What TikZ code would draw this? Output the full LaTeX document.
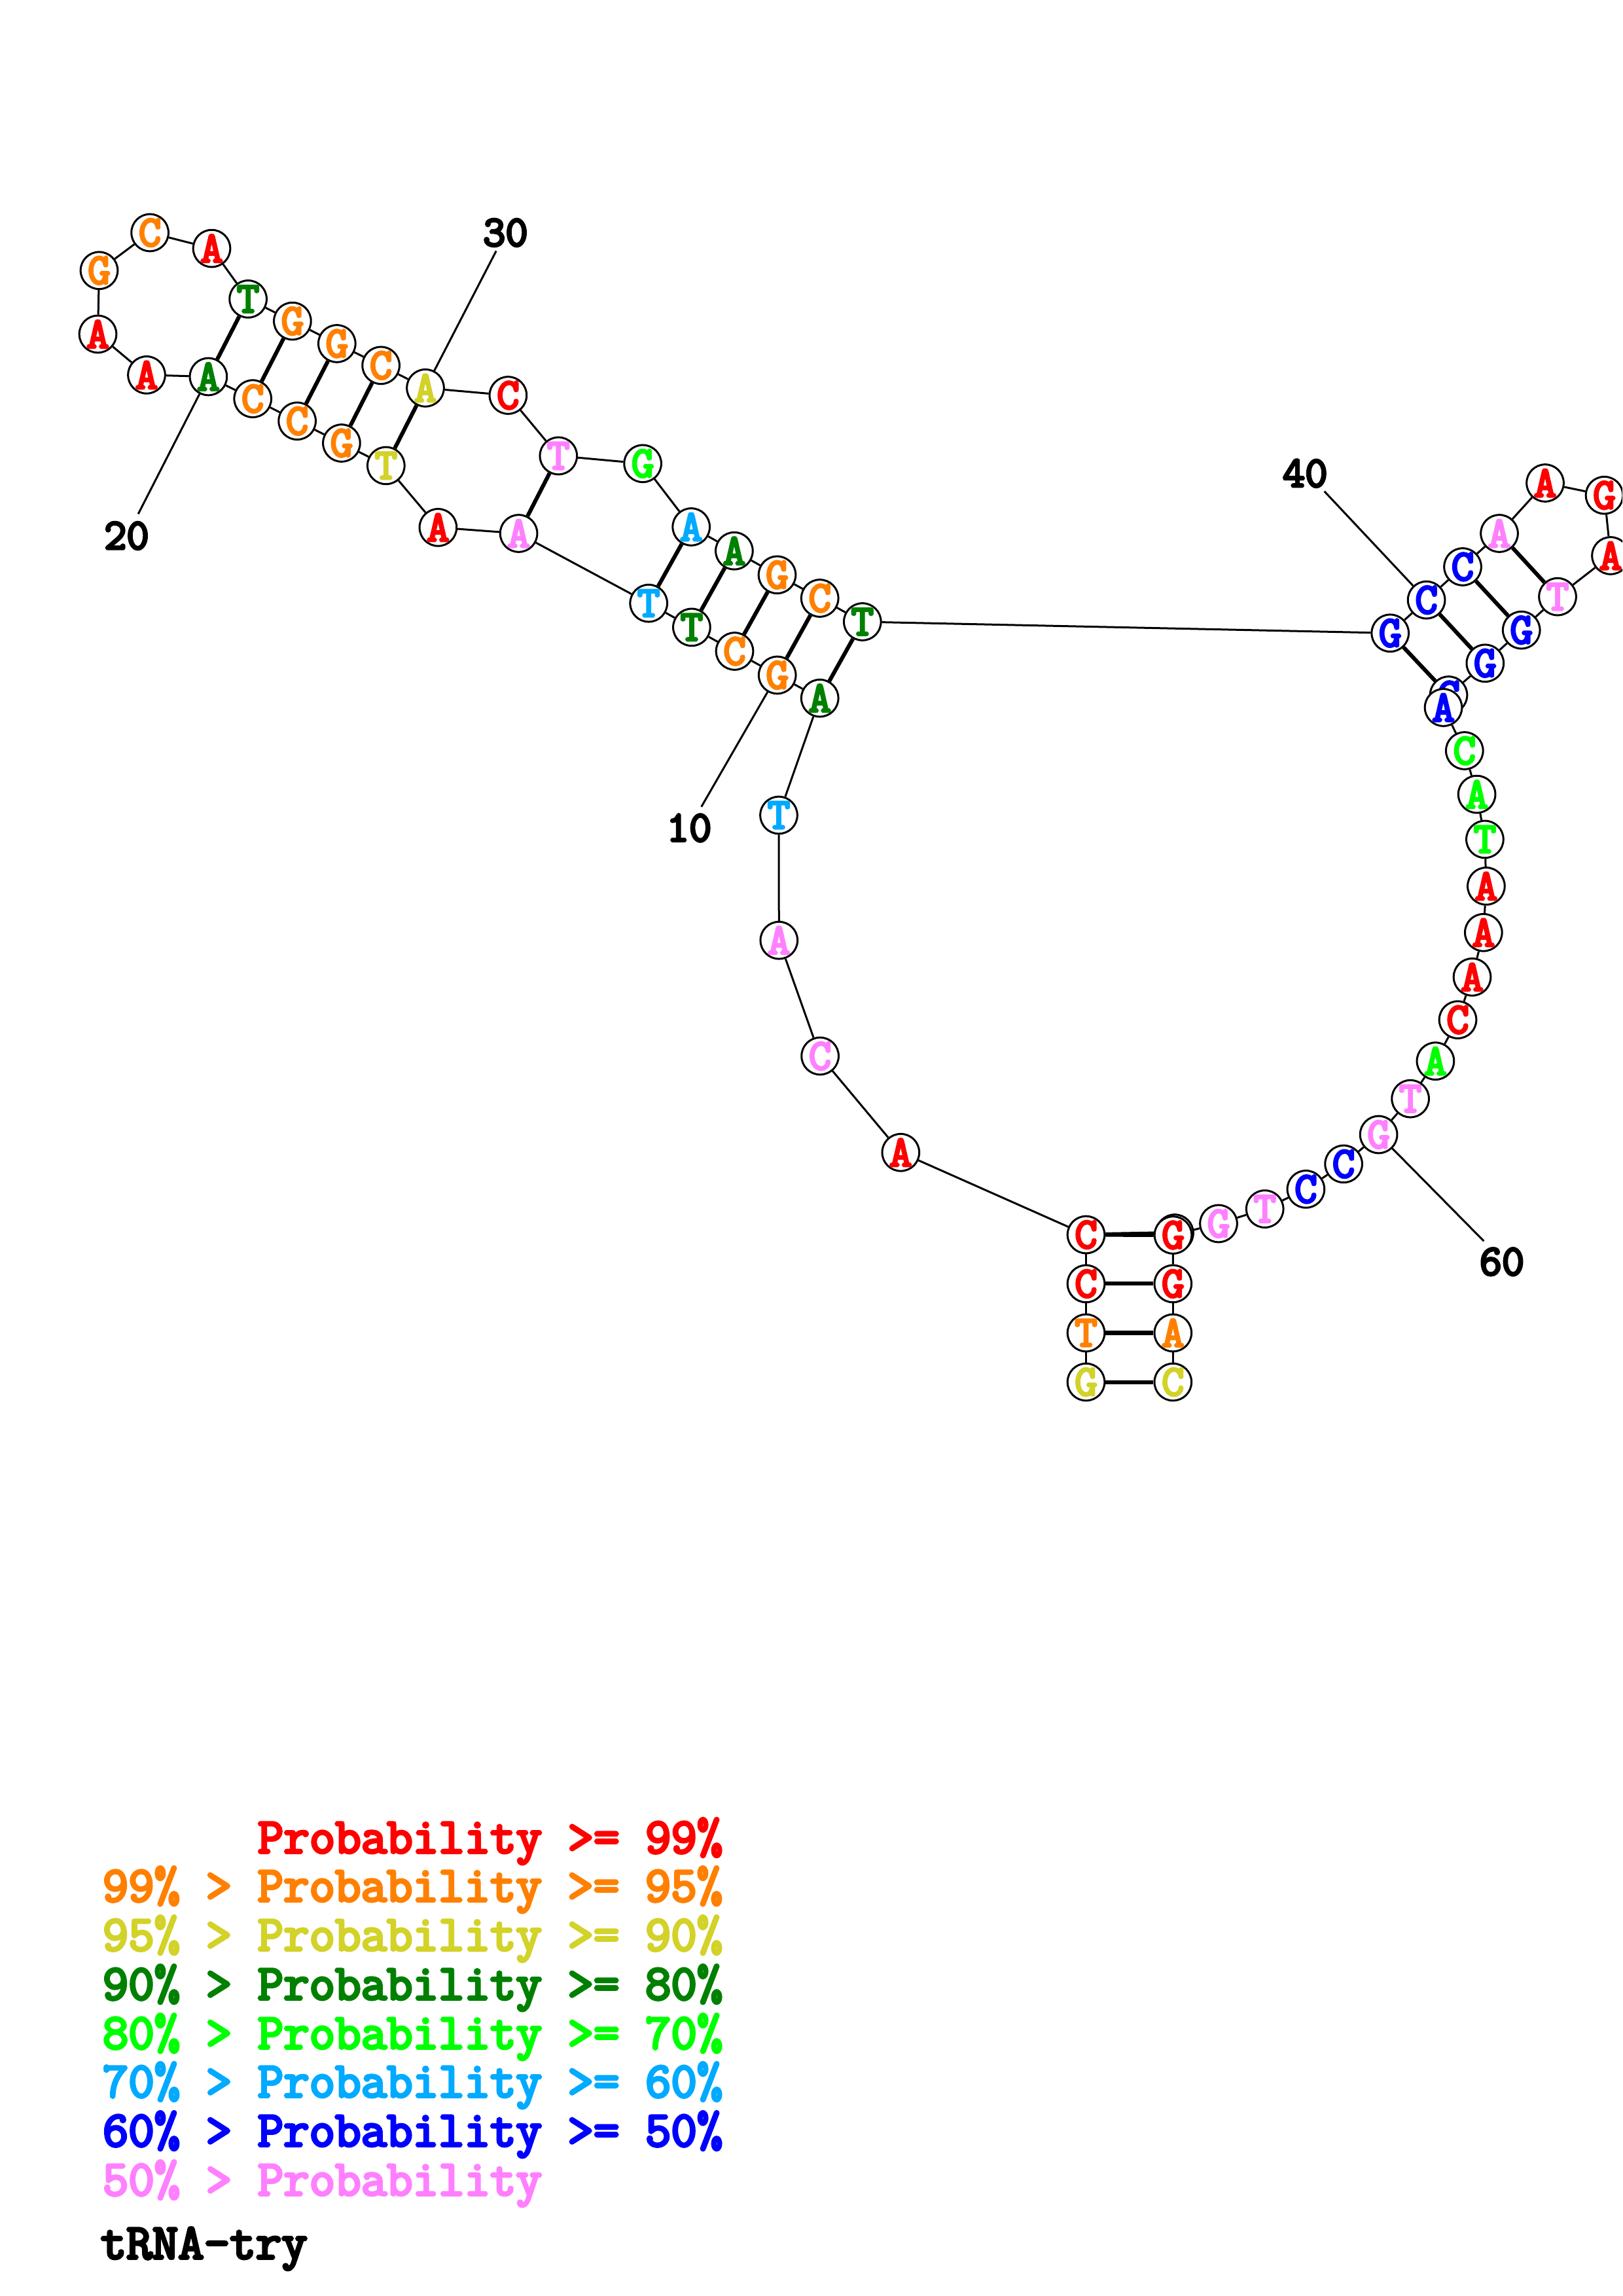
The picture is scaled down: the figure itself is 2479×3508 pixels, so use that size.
\documentclass[tikz,border=0pt]{standalone}
\usepackage{fontspec}
\newfontfamily\slab{Latin Modern Mono}[FakeBold=5, BoldFont={Latin Modern Mono}, BoldFeatures={FakeBold=5}]
\usetikzlibrary{calc}
\definecolor{cRed}{RGB}{255,0,0}
\definecolor{cOrange}{RGB}{255,128,0}
\definecolor{cYellow}{RGB}{210,210,40}
\definecolor{cDkGreen}{RGB}{0,128,0}
\definecolor{cGreen}{RGB}{0,255,0}
\definecolor{cSky}{RGB}{0,170,255}
\definecolor{cBlue}{RGB}{0,0,255}
\definecolor{cPink}{RGB}{255,128,255}
\pgfdeclarelayer{bg}
\pgfsetlayers{bg,main}
\tikzset{
  nt/.style={circle, draw=black, line width=0.72pt, fill=white, minimum size=13.6pt, inner sep=0pt,
    font=\slab\fontsize{16}{16}\selectfont},
  bb/.style={draw=black, line width=0.72pt},
  pr/.style={draw=black, line width=1.45pt},
  numlab/.style={inner sep=0pt, font=\slab\fontsize{16}{16}\selectfont, text=black},
  leg/.style={inner sep=0pt, anchor=base west, font=\slab\fontsize{18.4}{18.4}\selectfont}
}
\newcommand\nuc[5]{\node[nt,text=#4] (n#1) at (#2,#3) {#5};}
\begin{document}
\begin{tikzpicture}[x=0.24pt,y=-0.24pt]
\useasboundingbox (0,0) rectangle (2479,3508);
\clip (0,0) rectangle (2479,3508);
% nucleotides
\nuc{1}{1659.5}{2111.6}{cYellow}{G}
\nuc{2}{1659.5}{2036.5}{cOrange}{T}
\nuc{3}{1659.5}{1961.4}{cRed}{C}
\nuc{4}{1659.5}{1886.5}{cRed}{C}
\nuc{5}{1376.3}{1760.8}{cRed}{A}
\nuc{6}{1253.1}{1613.5}{cPink}{C}
\nuc{7}{1190.3}{1436.7}{cPink}{A}
\nuc{8}{1190.0}{1245.5}{cSky}{T}
\nuc{9}{1252.7}{1066.7}{cDkGreen}{A}
\nuc{10}{1187.7}{1031.5}{cOrange}{G}
\nuc{11}{1122.5}{995.0}{cOrange}{C}
\nuc{12}{1056.9}{958.4}{cDkGreen}{T}
\nuc{13}{991.2}{921.7}{cSky}{T}
\nuc{14}{792.6}{815.0}{cPink}{A}
\nuc{15}{669.4}{805.9}{cRed}{A}
\nuc{16}{589.8}{711.4}{cYellow}{T}
\nuc{17}{521.9}{677.0}{cOrange}{G}
\nuc{18}{454.1}{643.3}{cOrange}{C}
\nuc{19}{386.2}{609.2}{cOrange}{C}
\nuc{20}{318.4}{575.5}{cDkGreen}{A}
\nuc{21}{224.0}{572.9}{cRed}{A}
\nuc{22}{149.5}{510.5}{cRed}{A}
\nuc{23}{151.5}{413.3}{cOrange}{G}
\nuc{24}{229.1}{355.5}{cOrange}{C}
\nuc{25}{323.5}{379.6}{cRed}{A}
\nuc{26}{379.1}{456.9}{cDkGreen}{T}
\nuc{27}{446.9}{490.6}{cOrange}{G}
\nuc{28}{514.8}{525.0}{cOrange}{G}
\nuc{29}{582.1}{558.3}{cOrange}{C}
\nuc{30}{650.0}{592.8}{cYellow}{A}
\nuc{31}{776.4}{604.0}{cRed}{C}
\nuc{32}{853.3}{696.5}{cPink}{T}
\nuc{33}{982.1}{708.3}{cGreen}{G}
\nuc{34}{1056.2}{805.0}{cSky}{A}
\nuc{35}{1121.9}{841.7}{cDkGreen}{A}
\nuc{36}{1187.5}{878.3}{cOrange}{G}
\nuc{37}{1252.7}{914.0}{cOrange}{C}
\nuc{38}{1317.8}{950.0}{cDkGreen}{T}
\nuc{39}{2124.2}{967.3}{cBlue}{G}
\nuc{40}{2179.6}{916.7}{cBlue}{C}
\nuc{41}{2235.0}{866.0}{cBlue}{C}
\nuc{42}{2291.0}{815.0}{cPink}{A}
\nuc{43}{2361.0}{738.0}{cRed}{A}
\nuc{44}{2451.5}{756.7}{cRed}{G}
\nuc{45}{2461.0}{849.0}{cRed}{A}
\nuc{46}{2380.0}{911.7}{cPink}{T}
\nuc{47}{2324.7}{962.7}{cBlue}{G}
\nuc{48}{2269.3}{1013.3}{cBlue}{G}
\nuc{49}{2213.5}{1062.0}{cBlue}{C}
\nuc{50}{2205.5}{1081.0}{cBlue}{A}
\nuc{51}{2237.8}{1147.0}{cGreen}{C}
\nuc{52}{2256.6}{1213.6}{cGreen}{A}
\nuc{53}{2268.9}{1282.4}{cGreen}{T}
\nuc{54}{2270.9}{1353.9}{cRed}{A}
\nuc{55}{2266.8}{1424.8}{cRed}{A}
\nuc{56}{2249.5}{1492.8}{cRed}{A}
\nuc{57}{2227.5}{1558.1}{cRed}{C}
\nuc{58}{2193.4}{1621.2}{cGreen}{A}
\nuc{59}{2155.1}{1678.7}{cPink}{T}
\nuc{60}{2106.6}{1733.5}{cPink}{G}
\nuc{61}{2053.1}{1778.4}{cBlue}{C}
\nuc{62}{1995.4}{1816.9}{cBlue}{C}
\nuc{63}{1932.7}{1847.1}{cPink}{T}
\nuc{64}{1862.0}{1869.5}{cPink}{G}
\node[nt] (n65b) at (1795.0,1884.0) {};
\nuc{65}{1792.5}{1887.0}{cRed}{G}
\nuc{66}{1792.3}{1961.4}{cRed}{G}
\nuc{67}{1792.3}{2036.5}{cOrange}{A}
\nuc{68}{1792.3}{2111.6}{cYellow}{C}
% number labels
\node[numlab] (l10) at (1053,1265) {10};
\node[numlab] (l20) at (193.4,818.6) {20};
\node[numlab] (l30) at (772.4,355.5) {30};
\node[numlab] (l40) at (1994.2,723.3) {40};
\node[numlab] (l60) at (2294.9,1927.8) {60};
\coordinate (e10) at (1071.7,1232.7);
\coordinate (e20) at (211.2,785.3);
\coordinate (e30) at (758.2,383.4);
\coordinate (e40) at (2023.7,750.7);
\coordinate (e60) at (2267.3,1896.2);
\begin{pgfonlayer}{bg}
\foreach \i [evaluate=\i as \j using int(\i+1)] in {1,...,67} {\draw[bb] (n\i) -- (n\j);}
\foreach \a/\b in {1/68,2/67,3/66,4/65,9/38,10/37,11/36,12/35,13/34,14/32,16/30,17/29,18/28,19/27,20/26,39/49,40/48,41/47,42/46} {\draw[pr] (n\a) -- (n\b);}
\draw[pr] (n4) -- (n65b);
\foreach \k in {10,20,30,40,60} {\draw[bb] (n\k) -- (e\k);}
\end{pgfonlayer}
% legend
\node[leg,text=cRed] (g1) at (393,2831) {Probability >= 99\%};
\node[leg,text=cOrange] (g2) at (156,2905) {99\% > Probability >= 95\%};
\node[leg,text=cYellow] (g3) at (156,2980) {95\% > Probability >= 90\%};
\node[leg,text=cDkGreen] (g4) at (156,3055) {90\% > Probability >= 80\%};
\node[leg,text=cGreen] (g5) at (156,3130) {80\% > Probability >= 70\%};
\node[leg,text=cSky] (g6) at (156,3204) {70\% > Probability >= 60\%};
\node[leg,text=cBlue] (g7) at (156,3279) {60\% > Probability >= 50\%};
\node[leg,text=cPink] (g8) at (156,3354) {50\% > Probability};
\node[leg,text=black] (gt) at (153,3451) {tRNA-try};
\end{tikzpicture}
\end{document}
